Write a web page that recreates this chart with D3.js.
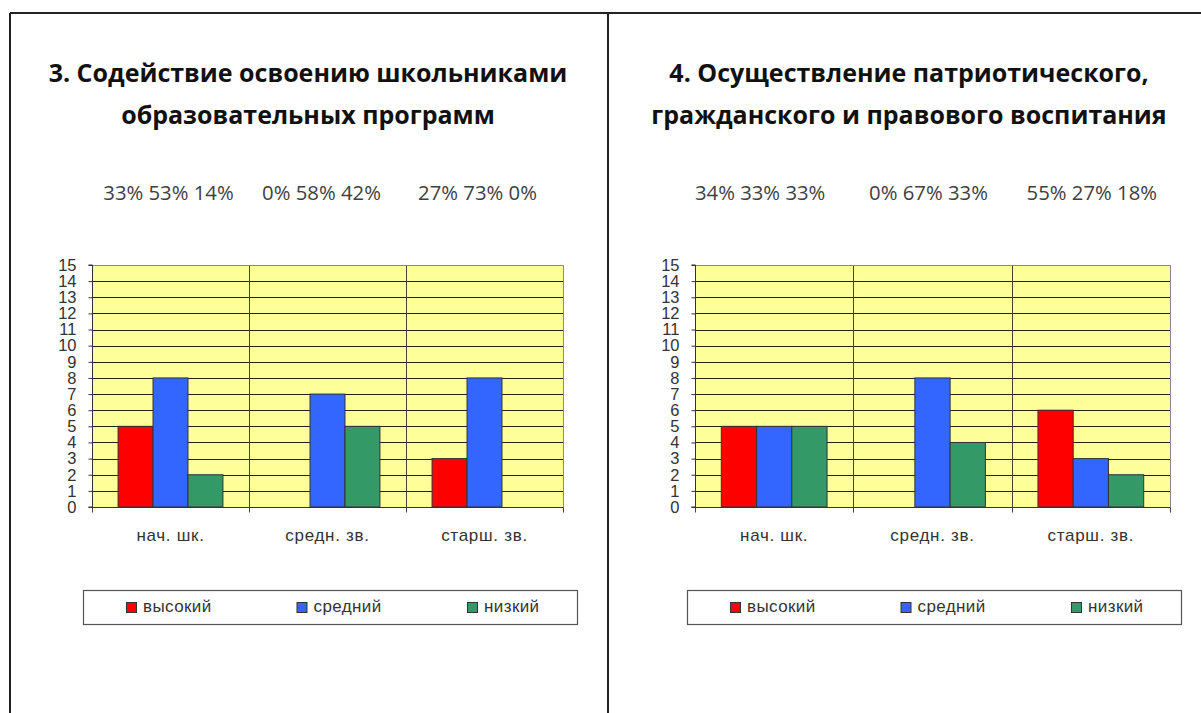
<!DOCTYPE html>
<html>
<head>
<meta charset="utf-8">
<script src="https://cdn.jsdelivr.net/npm/d3@7"></script>
<style>
  html, body { margin: 0; padding: 0; background: #fff; }
  svg { display: block; }
</style>
</head>
<body>
<script>
// ---- data ----
const categories = ["нач. шк.", "средн. зв.", "старш. зв."];
const seriesNames = ["высокий", "средний", "низкий"];
const seriesColors = ["#FF0000", "#3366FF", "#339966"];
const yTickValues = [0, 1, 2, 3, 4, 5, 6, 7, 8, 9, 10, 11, 12, 13, 14, 15];

const chart3Title = ["3. Содействие освоению школьниками", "образовательных программ"];
const chart3High = [5, 0, 3];
const chart3Mid = [8, 7, 8];
const chart3Low = [2, 5, 0];
const chart3Pct = ["33% 53% 14%", "0% 58% 42%", "27% 73% 0%"];

const chart4Title = ["4. Осуществление патриотического,", "гражданского и правового воспитания"];
const chart4High = [5, 0, 6];
const chart4Mid = [5, 8, 3];
const chart4Low = [5, 4, 2];
const chart4Pct = ["34% 33% 33%", "0% 67% 33%", "55% 27% 18%"];

// ---- drawing ----
const W = 1201, H = 713;
const svg = d3.select("body").append("svg").attr("width", W).attr("height", H);

// outer frame
svg.append("line").attr("x1", 10).attr("x2", W).attr("y1", 13).attr("y2", 13)
  .attr("stroke", "#222").attr("stroke-width", 2);
svg.append("line").attr("x1", 10).attr("x2", 10).attr("y1", 13).attr("y2", H)
  .attr("stroke", "#222").attr("stroke-width", 2);
svg.append("line").attr("x1", 608).attr("x2", 608).attr("y1", 13).attr("y2", H)
  .attr("stroke", "#222").attr("stroke-width", 2);

function drawChart(cfg) {
  const g = svg.append("g");
  const { left, right, top, bottom, titleX } = cfg;

  // title
  g.append("text")
    .attr("x", titleX).attr("y", 0)
    .attr("text-anchor", "middle")
    .attr("font-family", "'Open Sans', sans-serif")
    .attr("font-weight", "bold")
    .attr("font-size", 25)
    .attr("fill", "#111")
    .selectAll("tspan").data(cfg.title).join("tspan")
    .attr("x", titleX)
    .attr("y", (d, i) => 82 + i * 42)
    .text(d => d);

  const x0 = d3.scaleBand().domain(categories).range([left, right]).padding(0);
  const bw = x0.bandwidth();
  const x1 = d3.scaleBand().domain(seriesNames).range([bw * 0.166, bw * 0.834]).padding(0);
  const y = d3.scaleLinear().domain([0, 15]).range([bottom, top]);
  const color = d3.scaleOrdinal().domain(seriesNames).range(seriesColors);

  // percentages
  g.selectAll("text.pct").data(cfg.pct).join("text")
    .attr("class", "pct")
    .attr("x", (d, i) => x0(categories[i]) + bw / 2 + cfg.pctShift[i])
    .attr("y", 200)
    .attr("text-anchor", "middle")
    .attr("font-family", "'Open Sans', sans-serif")
    .attr("font-size", 20.3)
    .attr("fill", "#404040")
    .text(d => d);

  // plot background
  g.append("rect")
    .attr("x", left).attr("y", top)
    .attr("width", right - left).attr("height", bottom - top)
    .attr("fill", "#FFFF99");

  // horizontal gridlines
  g.append("g").selectAll("line").data(yTickValues.filter(v => v > 0 && v < 15)).join("line")
    .attr("x1", left).attr("x2", right)
    .attr("y1", d => Math.round(y(d)) + 0.5).attr("y2", d => Math.round(y(d)) + 0.5)
    .attr("stroke", "#222").attr("stroke-width", 1);

  // vertical category dividers
  g.append("g").selectAll("line").data(categories.slice(1)).join("line")
    .attr("x1", d => Math.round(x0(d)) + 0.5).attr("x2", d => Math.round(x0(d)) + 0.5)
    .attr("y1", top).attr("y2", bottom + 5)
    .attr("stroke", "#444").attr("stroke-width", 1);

  // plot border top/right
  g.append("path")
    .attr("d", `M${left},${top + 0.5}H${right + 0.5}V${bottom + 5}`)
    .attr("fill", "none").attr("stroke", "#888").attr("stroke-width", 1);

  // bars
  const rows = categories.map((c, i) => ({
    cat: c,
    vals: seriesNames.map((s, k) => ({ s, v: cfg.series[k][i] }))
  }));
  g.append("g").selectAll("g").data(rows).join("g")
    .attr("transform", d => `translate(${x0(d.cat)},0)`)
    .selectAll("rect").data(d => d.vals.filter(e => e.v > 0)).join("rect")
    .attr("x", d => x1(d.s))
    .attr("y", d => y(d.v))
    .attr("width", x1.bandwidth())
    .attr("height", d => y(0) - y(d.v))
    .attr("fill", d => color(d.s))
    .attr("stroke", "#333")
    .attr("stroke-width", 1);

  // y axis
  const yAxis = d3.axisLeft(y).tickValues(yTickValues).tickSize(4).tickPadding(12).tickFormat(d3.format("d"));
  const ya = g.append("g").attr("transform", `translate(${left + 0.5},0)`).call(yAxis);
  ya.select(".domain").attr("stroke", "#333").attr("d", `M-4,${top}H0V${bottom}H-4`);
  ya.selectAll(".tick line").attr("stroke", "#333");
  ya.selectAll(".tick text")
    .attr("font-family", "'Liberation Sans', Arial, sans-serif")
    .attr("font-size", 16.5).attr("fill", "#333");

  // x axis (baseline + boundary ticks + labels)
  const xa = g.append("g").attr("transform", `translate(0,${bottom + 0.5})`);
  xa.append("line").attr("x1", left).attr("x2", right).attr("stroke", "#333");
  xa.selectAll("line.bt").data([left, ...categories.slice(1).map(c => x0(c)), right]).join("line")
    .attr("class", "bt")
    .attr("x1", d => Math.round(d) + 0.5).attr("x2", d => Math.round(d) + 0.5)
    .attr("y1", 0).attr("y2", 5).attr("stroke", "#444");
  xa.selectAll("text").data(categories).join("text")
    .attr("x", d => x0(d) + bw / 2)
    .attr("y", 33)
    .attr("text-anchor", "middle")
    .attr("font-family", "'Liberation Sans', Arial, sans-serif")
    .attr("font-size", 17)
    .attr("letter-spacing", 0.7)
    .attr("fill", "#333")
    .text(d => d);

  // legend
  const lx = cfg.legendX, lw = 494, ly = 590, lh = 34;
  const lg = g.append("g");
  lg.append("rect").attr("x", lx + 0.5).attr("y", ly + 0.5).attr("width", lw).attr("height", lh)
    .attr("fill", "#fff").attr("stroke", "#555").attr("stroke-width", 1.2);
  const itemX = d3.scalePoint().domain(seriesNames).range([lx + 43, lx + 384]);
  const items = lg.selectAll("g.item").data(seriesNames).join("g")
    .attr("class", "item")
    .attr("transform", d => `translate(${itemX(d)},${ly})`);
  items.append("rect").attr("x", 0.5).attr("y", 12.5).attr("width", 10).attr("height", 10)
    .attr("fill", d => color(d)).attr("stroke", "#333").attr("stroke-width", 1);
  items.append("text").attr("x", 17).attr("y", 22)
    .attr("font-family", "'Liberation Sans', Arial, sans-serif")
    .attr("font-size", 17)
    .attr("letter-spacing", 0.4)
    .attr("fill", "#333")
    .text(d => d);
}

drawChart({
  left: 92, right: 563, top: 265, bottom: 507, titleX: 308,
  title: chart3Title, series: [chart3High, chart3Mid, chart3Low],
  pct: chart3Pct, pctShift: [-2, -6, -7], legendX: 83
});
drawChart({
  left: 695, right: 1170, top: 265, bottom: 507, titleX: 909,
  title: chart4Title, series: [chart4High, chart4Mid, chart4Low],
  pct: chart4Pct, pctShift: [-14, -4, 1], legendX: 687
});
</script>
</body>
</html>
